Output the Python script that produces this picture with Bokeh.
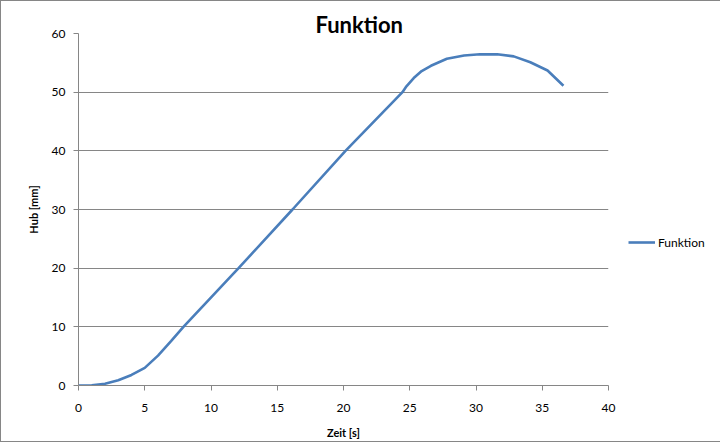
from bokeh.plotting import figure
from bokeh.models import Legend, LegendItem, Title, SingleIntervalTicker, Range1d
from bokeh.embed import file_html
from bokeh.resources import INLINE

# data
zeit = [0, 1, 2, 3, 4, 5, 6, 7, 7.92, 12.08, 16.15, 20.15, 24.45, 24.75, 25.3,
        25.9, 26.6, 27.8, 28.5, 29.1, 30.3, 31.6, 32.85, 34.1, 35.4, 36.6]
hub = [0, 0.05, 0.3, 0.9, 1.8, 3.0, 5.1, 7.6, 10, 20, 30, 40, 50, 51.0, 52.4,
       53.6, 54.5, 55.7, 56.0, 56.25, 56.45, 56.45, 56.1, 55.1, 53.7, 51.1]
series_name = "Funktion"
title_text = "Funktion"
x_label = "Zeit [s]"
y_label = "Hub [mm]"

GRID = "#868686"
LINE = "#4A7EBB"
FONT = "Lato"

p = figure(frame_width=530, frame_height=352, output_backend="svg",
           toolbar_location=None, x_range=Range1d(0, 40), y_range=Range1d(0, 60),
           min_border_left=77, min_border_top=32, min_border_bottom=0,
           min_border_right=0, title=None,
           styles={"border": "1px solid #868686"})
p.background_fill_color = "white"
p.border_fill_color = "white"
p.outline_line_color = None

t = Title(text=title_text, align="left", text_font=FONT, text_font_size="22px",
          text_font_style="bold", text_color="black", standoff=-8, offset=237)
p.add_layout(t, "above")

r = p.line(zeit, hub, line_color=LINE, line_width=2.6)

for ax in (p.xaxis[0], p.yaxis[0]):
    ax.axis_line_color = GRID
    ax.major_tick_line_color = GRID
    ax.major_tick_out = 5
    ax.major_tick_in = 0
    ax.minor_tick_line_color = None
    ax.major_label_text_font = FONT
    ax.major_label_text_font_size = "12px"
    ax.major_label_text_color = "black"
    ax.axis_label_text_font = FONT
    ax.axis_label_text_font_size = "11px"
    ax.axis_label_text_font_style = "bold"
    ax.axis_label_text_color = "black"

p.xaxis.ticker = SingleIntervalTicker(interval=5)
p.yaxis.ticker = SingleIntervalTicker(interval=10)
p.xaxis.axis_label = x_label
p.yaxis.axis_label = y_label
p.xaxis.major_label_standoff = 13
p.yaxis.major_label_standoff = 8
p.xaxis.axis_label_standoff = 11
p.yaxis.axis_label_standoff = 9

p.xgrid.grid_line_color = None
p.ygrid.grid_line_color = GRID
p.ygrid.grid_line_width = 1

legend = Legend(items=[LegendItem(label=series_name, renderers=[r])],
                location=(20, 133), orientation="vertical",
                label_text_font=FONT, label_text_font_size="12px",
                label_text_color="black", glyph_width=27, glyph_height=20,
                label_standoff=3, padding=0, margin=0, spacing=0,
                border_line_color=None, background_fill_alpha=0)
p.add_layout(legend, "right")
p.min_border_right = 10

open("out.html", "w").write(file_html(p, INLINE))
